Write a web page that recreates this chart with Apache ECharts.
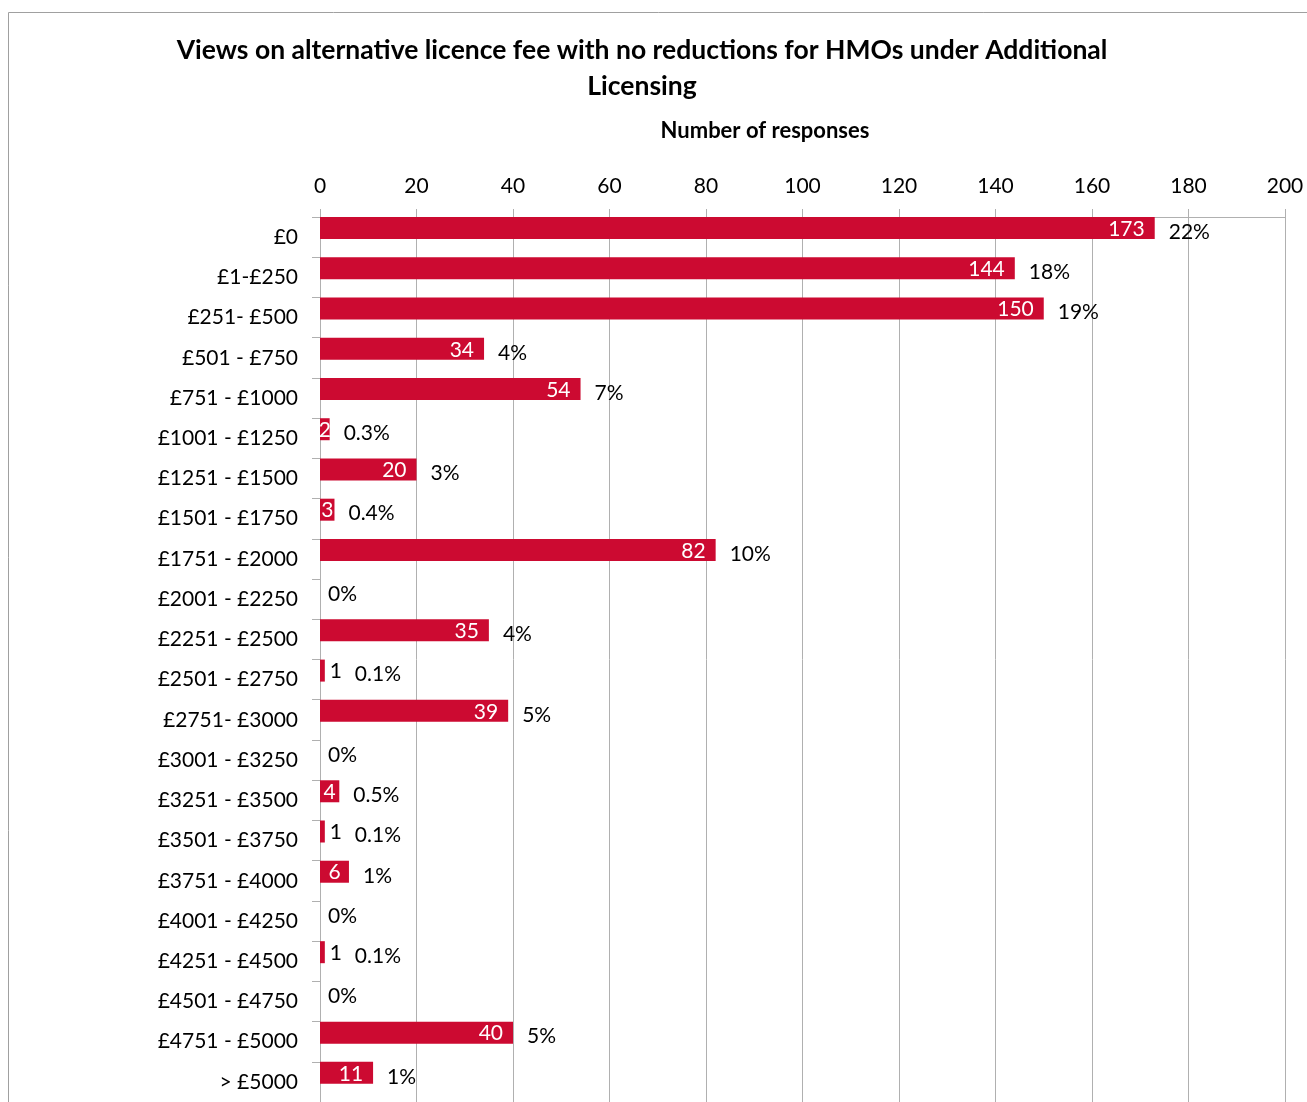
<!DOCTYPE html>
<html>
<head>
<meta charset="utf-8">
<script src="https://cdn.jsdelivr.net/npm/echarts@6/dist/echarts.min.js"></script>
<style>
html,body{margin:0;padding:0;background:#fff;}
#chart{width:1307px;height:1102px;}
</style>
</head>
<body>
<div id="chart"></div>
<script>
var categories = ['£0','£1-£250','£251- £500','£501 - £750','£751 - £1000','£1001 - £1250','£1251 - £1500','£1501 - £1750','£1751 - £2000','£2001 - £2250','£2251 - £2500','£2501 - £2750','£2751- £3000','£3001 - £3250','£3251 - £3500','£3501 - £3750','£3751 - £4000','£4001 - £4250','£4251 - £4500','£4501 - £4750','£4751 - £5000','> £5000'];
var responses = [173,144,150,34,54,2,20,3,82,0,35,1,39,0,4,1,6,0,1,0,40,11];
var percents = ['22%','18%','19%','4%','7%','0.3%','3%','0.4%','10%','0%','4%','0.1%','5%','0%','0.5%','0.1%','1%','0%','0.1%','0%','5%','1%'];
var xTicks = {min: 0, max: 200, interval: 20};

var FONT = 'Lato';
var RED = '#CC0A31';

var countData = responses.map(function (v) {
  var lbl;
  if (v === 0) {
    lbl = {show: false};
  } else if (v <= 1) {
    lbl = {show: true, position: 'right', distance: 5, color: '#000'};
  } else if (v < 10) {
    lbl = {show: true, position: 'inside', color: '#fff'};
  } else {
    lbl = {show: true, position: 'insideRight', distance: 10, color: '#fff'};
  }
  return {value: v, label: lbl};
});

var pctData = responses.map(function (v, i) {
  var d = v === 0 ? 8 : (v <= 1 ? 30 : 14);
  return {value: v, label: {distance: d, formatter: percents[i]}};
});

var chart = echarts.init(document.getElementById('chart'), null, {renderer: 'canvas'});
chart.setOption({
  animation: false,
  textStyle: {fontFamily: FONT},
  grid: {left: 320, right: 22, top: 217, height: 887},
  xAxis: {
    type: 'value',
    position: 'top',
    min: xTicks.min, max: xTicks.max, interval: xTicks.interval,
    axisLine: {show: true, lineStyle: {color: '#b0b0b0', width: 1}},
    axisTick: {show: true, length: 8, lineStyle: {color: '#b0b0b0'}},
    splitLine: {show: true, lineStyle: {color: '#b0b0b0', width: 1}},
    axisLabel: {fontSize: 21, color: '#000', fontFamily: FONT, margin: 20}
  },
  yAxis: {
    type: 'category',
    inverse: true,
    data: categories,
    axisLine: {show: true, lineStyle: {color: '#b0b0b0'}},
    axisTick: {show: true, length: 8, lineStyle: {color: '#b0b0b0'}},
    axisLabel: {fontSize: 21, color: '#000', fontFamily: FONT, margin: 22}
  },
  series: [
    {
      name: 'Responses',
      type: 'bar',
      data: countData,
      barWidth: 22,
      barGap: '-18%',
      itemStyle: {color: RED},
      label: {show: true, fontSize: 21, fontFamily: FONT, offset: [0, 1]}
    },
    {
      name: 'Percent',
      type: 'bar',
      data: pctData,
      barWidth: 22,
      barGap: '-18%',
      itemStyle: {color: 'rgba(0,0,0,0)'},
      label: {show: true, position: 'right', fontSize: 21, fontFamily: FONT, color: '#000', offset: [0, -14]},
      silent: true
    }
  ],
  graphic: [
    {type: 'rect', shape: {x: 8.5, y: 12.5, width: 1400, height: 1200}, style: {fill: 'none', stroke: '#a0a0a0', lineWidth: 1}, silent: true, z: -10},
    {type: 'text', x: 642, y: 50, style: {text: 'Views on alternative licence fee with no reductions for HMOs under Additional', font: 'bold 26.5px Lato', fill: '#000', textAlign: 'center', textVerticalAlign: 'middle'}},
    {type: 'text', x: 642, y: 86, style: {text: 'Licensing', font: 'bold 26.5px Lato', fill: '#000', textAlign: 'center', textVerticalAlign: 'middle'}},
    {type: 'text', x: 765, y: 131, style: {text: 'Number of responses', font: 'bold 22px Lato', fill: '#000', textAlign: 'center', textVerticalAlign: 'middle'}}
  ]
});
</script>
</body>
</html>
